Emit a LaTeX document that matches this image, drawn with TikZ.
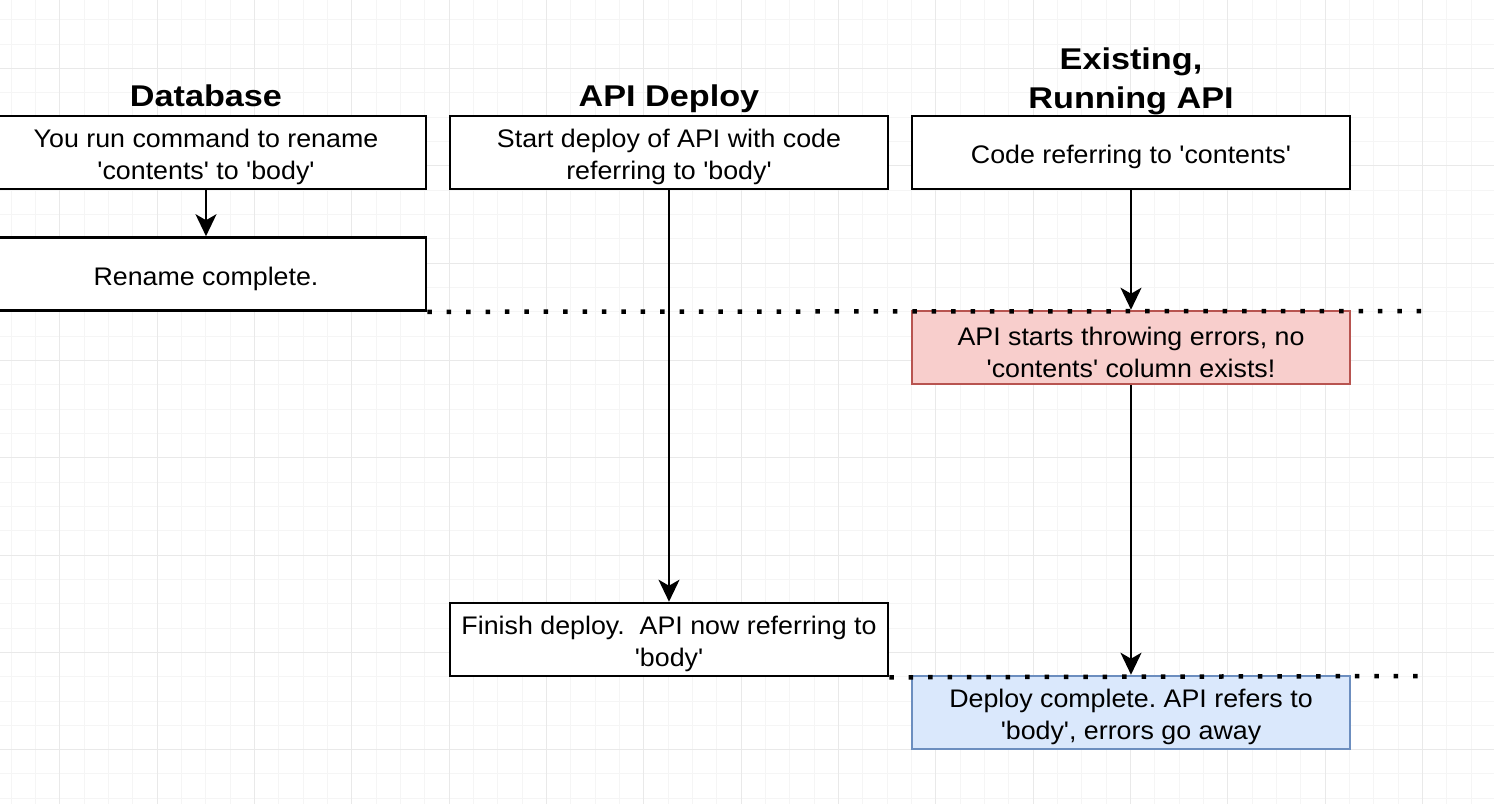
\documentclass[tikz,border=0pt]{standalone}
\usepackage{fontspec}
\setmainfont{Liberation Sans}
\newfontfamily\bodyfont[FakeStretch=1.055,Ligatures=TeXOff]{Liberation Sans}
\newfontfamily\titlefont[FakeStretch=1.14]{Liberation Sans}
\usetikzlibrary{arrows.meta}
\definecolor{gridminor}{HTML}{F5F5F5}
\definecolor{gridmajor}{HTML}{E9E9E9}
\definecolor{redfill}{HTML}{F8CECC}
\definecolor{redline}{HTML}{B85450}
\definecolor{bluefill}{HTML}{DAE8FC}
\definecolor{blueline}{HTML}{6C8EBF}
\newcommand{\tp}{\rule{0pt}{28pt}}
\frenchspacing
\begin{document}
\begin{tikzpicture}[x=1pt,y=-1pt,
  box/.style={draw=black, line width=2.6pt, fill=white, minimum width=438pt, minimum height=73pt, inner sep=0pt, align=center, font=\bodyfont\fontsize{25.4}{32}\selectfont},
  redbox/.style={box, draw=redline, fill=redfill},
  bluebox/.style={box, draw=blueline, fill=bluefill},
  coltitle/.style={font=\titlefont\bfseries\fontsize{30}{38.5}\selectfont, align=center, inner sep=0pt, anchor=base},
  flow/.style={line width=2.3pt, -{Stealth[length=22pt,width=21pt,inset=6pt]}},
  timeline/.style={line width=4.5pt, dash pattern=on 4.5pt off 14.9pt},
  gridmin/.style={draw=gridminor, line width=0.9pt},
  gridmaj/.style={draw=gridmajor, line width=0.9pt}
]
\useasboundingbox (0,0) rectangle (1494,804);
\fill[white] (0,0) rectangle (1494,804);
\begin{scope}
\clip (0,0) rectangle (1494,804);
% grid
\foreach \i in {0,...,61} {
  \pgfmathsetmacro{\gx}{11.2+24.33*\i}
  \draw[gridmin] (\gx,0) -- (\gx,804);
}
\foreach \j in {0,...,32} {
  \pgfmathsetmacro{\gy}{19.7+24.33*\j}
  \draw[gridmin] (0,\gy) -- (1494,\gy);
}
\foreach \i in {0,...,15} {
  \pgfmathsetmacro{\gx}{11.2+24.33*(4*\i+2)}
  \draw[gridmaj] (\gx,0) -- (\gx,804);
}
\foreach \j in {0,...,7} {
  \pgfmathsetmacro{\gy}{19.7+24.33*(4*\j+2)}
  \draw[gridmaj] (0,\gy) -- (1494,\gy);
}

% titles
\node[coltitle] (tdb) at (206,106) {Database};
\node[coltitle] (tapi) at (669,106) {API Deploy};
\node[coltitle] (tex) at (1131,108) {Existing,\\Running API};

% boxes
\node[box, minimum width=440pt] (db) at (206,152.5) {\tp You run command to rename\\'contents' to 'body'};
\node[box, minimum width=440pt] (ren) at (206,274) {\tp Rename complete.};
\node[box] (apid) at (669,152.5) {\tp Start deploy of API with code\\referring to 'body'};
\node[box] (ex) at (1131,152.5) {\tp Code referring to 'contents'};
\node[redbox] (err) at (1131,347.5) {\tp API starts throwing errors, no\\'contents' column exists!};
\node[box] (fin) at (669,639.5) {\tp Finish deploy.\ \ API now referring to\\'body'};
\node[bluebox] (ok) at (1131,712.5) {\tp Deploy complete. API refers to\\'body', errors go away};

% connectors
\draw[flow] (db.south) -- (ren.north);
\draw[flow] (apid.south) -- (fin.north);
\draw[flow] (ex.south) -- (err.north);
\draw[flow] (err.south) -- (ok.north);

% timelines
\coordinate (t1end) at (1422,311);
\coordinate (t2end) at (1422,676);
\draw[timeline] (ren.south east) -- (t1end);
\draw[timeline] (fin.south east) -- (t2end);
\end{scope}
\end{tikzpicture}
\end{document}
